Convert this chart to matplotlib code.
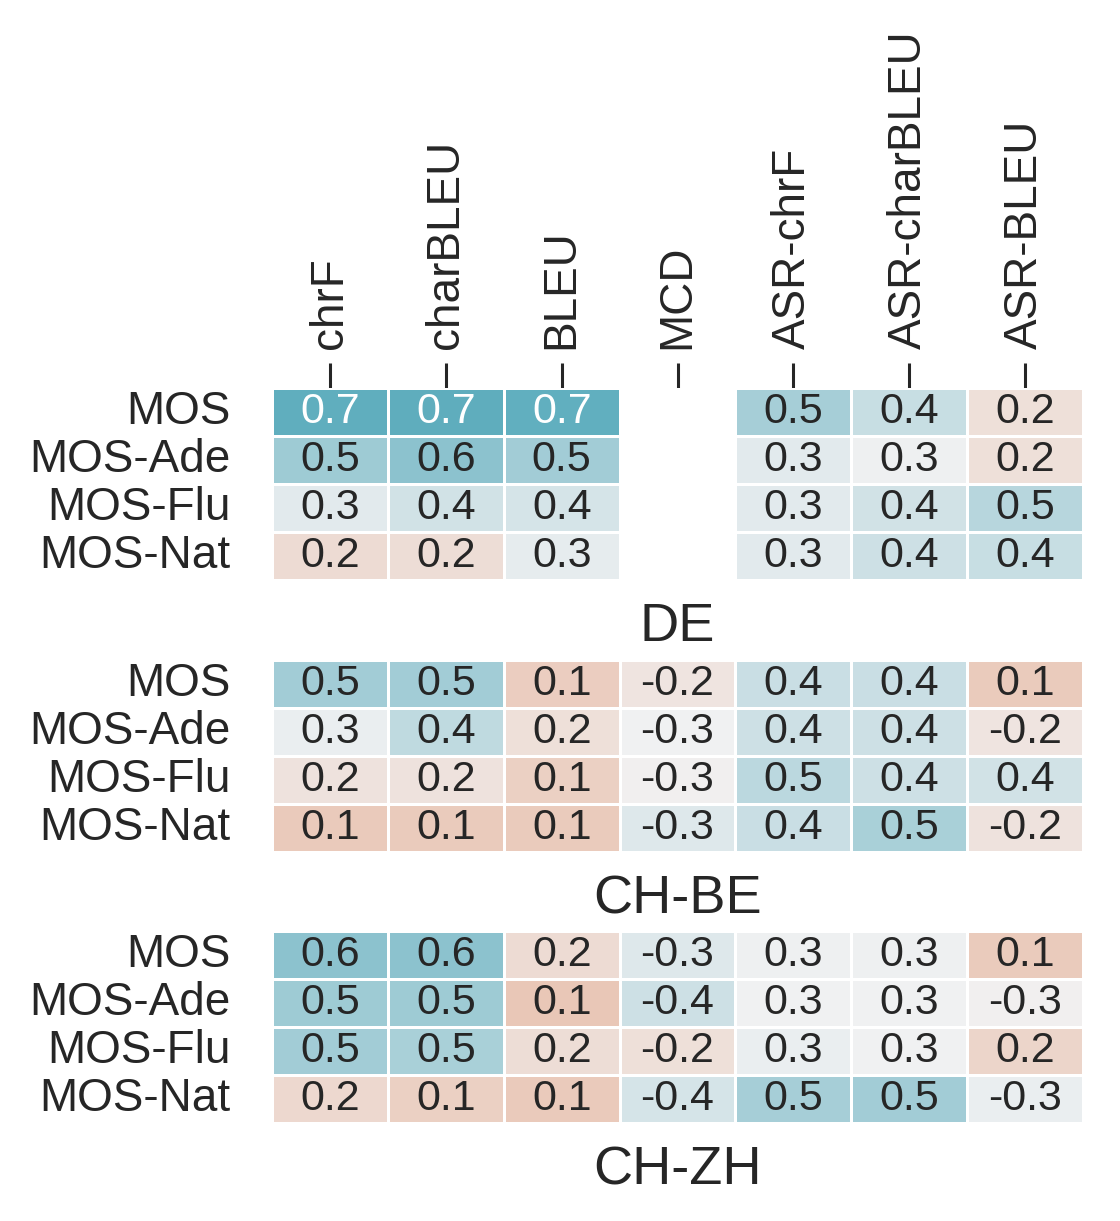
import numpy as np
import matplotlib
matplotlib.use("Agg")
import matplotlib.pyplot as plt
from matplotlib.colors import LinearSegmentedColormap
import seaborn as sns

sns.set_theme(style="white")
plt.rcParams['font.family'] = ['Liberation Sans', 'DejaVu Sans']

metrics = ["chrF", "charBLEU", "BLEU", "MCD", "ASR-chrF", "ASR-charBLEU", "ASR-BLEU"]
ratings = ["MOS", "MOS-Ade", "MOS-Flu", "MOS-Nat"]
dialects = ["DE", "CH-BE", "CH-ZH"]

# correlations (rows: ratings, cols: metrics); MCD missing for DE
corr_de = [
    [0.71, 0.72, 0.70, np.nan, 0.51, 0.42, 0.22],
    [0.53, 0.58, 0.52, np.nan, 0.34, 0.31, 0.22],
    [0.34, 0.39, 0.38, np.nan, 0.34, 0.39, 0.46],
    [0.20, 0.21, 0.33, np.nan, 0.34, 0.40, 0.42],
]
corr_chbe = [
    [0.52, 0.52, 0.14, -0.24, 0.41, 0.41, 0.13],
    [0.32, 0.44, 0.22, -0.30, 0.40, 0.40, -0.24],
    [0.23, 0.23, 0.15, -0.29, 0.45, 0.40, 0.39],
    [0.12, 0.13, 0.13, -0.35, 0.41, 0.50, -0.23],
]
corr_chzh = [
    [0.58, 0.58, 0.20, -0.35, 0.31, 0.31, 0.13],
    [0.53, 0.53, 0.11, -0.40, 0.30, 0.30, -0.29],
    [0.52, 0.50, 0.21, -0.22, 0.32, 0.30, 0.17],
    [0.19, 0.15, 0.12, -0.38, 0.51, 0.52, -0.32],
]
all_corr = [corr_de, corr_chbe, corr_chzh]

# orange -> light grey -> teal, centred on 0.3
cmap = LinearSegmentedColormap.from_list("orteal", [
    (0.0, (205/255, 120/255, 80/255)),
    (0.357, (233/255, 197/255, 180/255)),
    (0.5, (241/255, 241/255, 242/255)),
    (0.786, (98/255, 175/255, 191/255)),
    (1.0, (45/255, 140/255, 160/255)),
])

fig = plt.figure(figsize=(5.6, 6.105), dpi=200)
bottoms = [0.5250, 0.3022, 0.0803]

for i, (name, corr) in enumerate(zip(dialects, all_corr)):
    ax = fig.add_axes([0.2429, bottoms[i], 0.7241, 0.157])
    vals = np.array(corr, dtype=float)
    annot = np.where(np.isnan(vals), "", np.vectorize(lambda v: f"{v:.1f}")(vals))
    sns.heatmap(np.abs(vals), ax=ax, cmap=cmap, vmin=-0.4, vmax=1.0,
                annot=annot, fmt="", cbar=False, linewidths=1, linecolor="white",
                annot_kws={"fontsize": 15.5},
                xticklabels=metrics, yticklabels=ratings)
    ax.set_yticklabels(ratings, rotation=0, fontsize=16.5)
    ax.tick_params(axis="y", length=0, pad=15)
    if i == 0:
        ax.xaxis.tick_top()
        ax.set_xticklabels(metrics, rotation=90, fontsize=16.5)
        ax.tick_params(axis="x", top=True, bottom=False, length=9, width=1.1,
                       color="#262626", pad=5)
    else:
        ax.set_xticks([])
    ax.set_xlabel(name, fontsize=19.5, labelpad=8)

plt.savefig("out.png", dpi=200)
